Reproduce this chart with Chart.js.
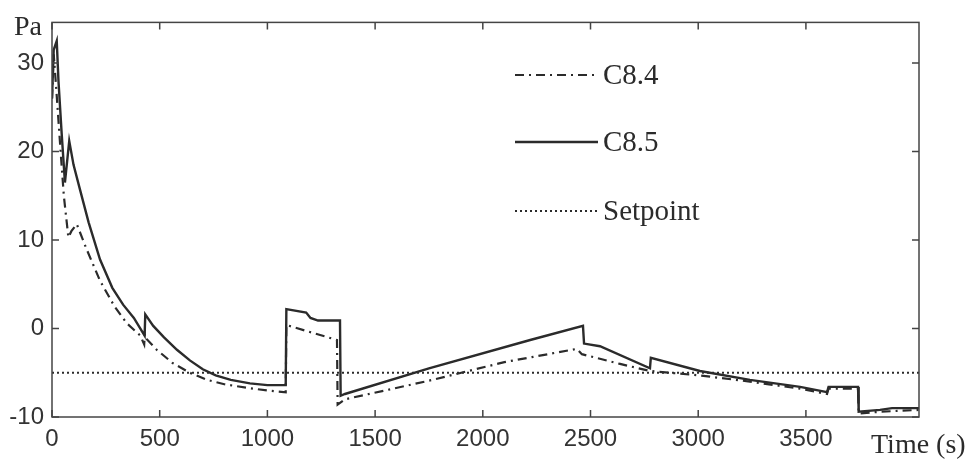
<!DOCTYPE html>
<html>
<head>
<meta charset="utf-8">
<script src="https://cdn.jsdelivr.net/npm/chart.js@4.4.0/dist/chart.umd.min.js"></script>
<style>
  html, body { margin: 0; padding: 0; background: #fff; }
  #wrap { width: 973px; height: 462px; }
</style>
</head>
<body>
<div id="wrap"><canvas id="myChart" width="973" height="462"></canvas></div>
<script>
// values (time in s, pressure in Pa)
const c84Time = [0, 8, 20, 40, 55, 76, 90, 115, 160, 223, 290, 347, 410, 428, 431, 440, 486, 560, 640, 720, 800, 904, 1000, 1085, 1088, 1323, 1326, 1360, 1750, 2100, 2437, 2460, 2637, 2776, 3008, 3240, 3473, 3598, 3605, 3742, 3745, 3850, 4025];
const c84Pa   = [26, 31, 27, 20, 15, 10.3, 11, 11.8, 9, 5.4, 2.5, 0.6, -0.8, -1.8, -0.6, -1.2, -2.4, -3.9, -5.0, -5.8, -6.3, -6.7, -7.0, -7.2, 0.4, -1.3, -8.6, -8, -5.9, -3.8, -2.3, -2.9, -4, -4.8, -5.3, -6, -6.8, -7.4, -6.8, -6.8, -9.6, -9.4, -9.2];

const c85Time = [0, 8, 22, 30, 45, 60, 80, 100, 130, 170, 223, 280, 330, 380, 430, 433, 470, 520, 580, 640, 700, 760, 830, 919, 1000, 1085, 1088, 1180, 1200, 1235, 1337, 1340, 1360, 1750, 2220, 2465, 2470, 2544, 2776, 2780, 3008, 3240, 3473, 3598, 3605, 3742, 3745, 3844, 3900, 4025];
const c85Pa   = [26, 31.5, 32.5, 28, 22, 16.5, 21.2, 18.5, 15.7, 12, 7.8, 4.6, 2.7, 1.2, -0.8, 1.6, 0.3, -1.0, -2.4, -3.6, -4.6, -5.3, -5.8, -6.2, -6.4, -6.4, 2.2, 1.8, 1.2, 0.9, 0.9, -7.6, -7.4, -4.5, -1.3, 0.3, -1.7, -2, -4.5, -3.3, -4.8, -5.8, -6.6, -7.2, -6.6, -6.6, -9.4, -9.2, -9, -9];

const setTime = [0, 4025];
const setPa   = [-5, -5];

const xTicks = [0, 500, 1000, 1500, 2000, 2500, 3000, 3500];
const yTicks = [-10, 0, 10, 20, 30];
const seriesNames = ['C8.4', 'C8.5', 'Setpoint'];

function toPoints(t, v) {
  return t.map((x, i) => ({ x: x, y: v[i] }));
}

const ink = '#2b2b2b';
const serif = '"Liberation Serif", "DejaVu Serif", serif';

// MATLAB style box, inward ticks, legend and axis captions
const boxAndLegend = {
  id: 'boxAndLegend',
  afterDraw(chart) {
    const ctx = chart.ctx;
    const a = chart.chartArea;
    const xs = chart.scales.x, ys = chart.scales.y;
    ctx.save();
    ctx.strokeStyle = '#444';
    ctx.lineWidth = 1.5;
    ctx.strokeRect(a.left, a.top, a.right - a.left, a.bottom - a.top);
    ctx.beginPath();
    for (const v of xTicks) {
      const px = xs.getPixelForValue(v);
      ctx.moveTo(px, a.bottom); ctx.lineTo(px, a.bottom - 7);
      ctx.moveTo(px, a.top); ctx.lineTo(px, a.top + 7);
    }
    for (const v of yTicks) {
      const py = ys.getPixelForValue(v);
      ctx.moveTo(a.left, py); ctx.lineTo(a.left + 7, py);
      ctx.moveTo(a.right, py); ctx.lineTo(a.right - 7, py);
    }
    ctx.stroke();

    // legend
    const rows = [75, 142, 211];
    ctx.font = '29px ' + serif;
    ctx.fillStyle = ink;
    ctx.textBaseline = 'middle';
    chart.data.datasets.forEach((ds, i) => {
      ctx.strokeStyle = ds.borderColor;
      ctx.lineWidth = ds.borderWidth;
      ctx.setLineDash(ds.borderDash || []);
      ctx.beginPath();
      ctx.moveTo(515, rows[i]);
      ctx.lineTo(598, rows[i]);
      ctx.stroke();
      ctx.setLineDash([]);
      ctx.fillText(ds.label, 603, rows[i] + 1);
    });

    // axis captions
    ctx.textBaseline = 'alphabetic';
    ctx.font = '28px ' + serif;
    ctx.textAlign = 'left';
    ctx.fillText('Pa', 14, 35);
    ctx.fillText('Time (s)', 871, 453);
    ctx.restore();
  }
};

new Chart(document.getElementById('myChart'), {
  type: 'scatter',
  data: {
    datasets: [
      {
        label: seriesNames[0],
        data: toPoints(c84Time, c84Pa),
        showLine: true,
        borderColor: ink,
        borderWidth: 2.2,
        borderDash: [9, 5, 2, 5],
        pointRadius: 0
      },
      {
        label: seriesNames[1],
        data: toPoints(c85Time, c85Pa),
        showLine: true,
        borderColor: ink,
        borderWidth: 2.4,
        pointRadius: 0
      },
      {
        label: seriesNames[2],
        data: toPoints(setTime, setPa),
        showLine: true,
        borderColor: ink,
        borderWidth: 2,
        borderDash: [2, 3],
        pointRadius: 0
      }
    ]
  },
  options: {
    responsive: false,
    animation: false,
    devicePixelRatio: 1,
    layout: { padding: { left: 0, top: 5, right: 54, bottom: 0 } },
    plugins: { legend: { display: false }, tooltip: { enabled: false } },
    scales: {
      x: {
        type: 'linear',
        min: 0,
        max: 4025,
        grid: { display: false, drawTicks: false },
        border: { display: false },
        afterBuildTicks: (s) => { s.ticks = xTicks.map(v => ({ value: v })); },
        afterFit: (s) => { s.height = 45; },
        ticks: {
          color: '#333',
          padding: 8,
          maxRotation: 0,
          callback: (v) => String(v),
          font: { family: '"Liberation Sans", Arial, sans-serif', size: 24 }
        }
      },
      y: {
        type: 'linear',
        min: -10,
        max: 34.6,
        grid: { display: false, drawTicks: false },
        border: { display: false },
        afterBuildTicks: (s) => { s.ticks = yTicks.map(v => ({ value: v })); },
        afterFit: (s) => { s.width = 52; },
        ticks: {
          color: '#333',
          padding: 8,
          callback: (v) => String(v),
          font: { family: '"Liberation Sans", Arial, sans-serif', size: 24 }
        }
      }
    }
  },
  plugins: [boxAndLegend]
});
</script>
</body>
</html>
